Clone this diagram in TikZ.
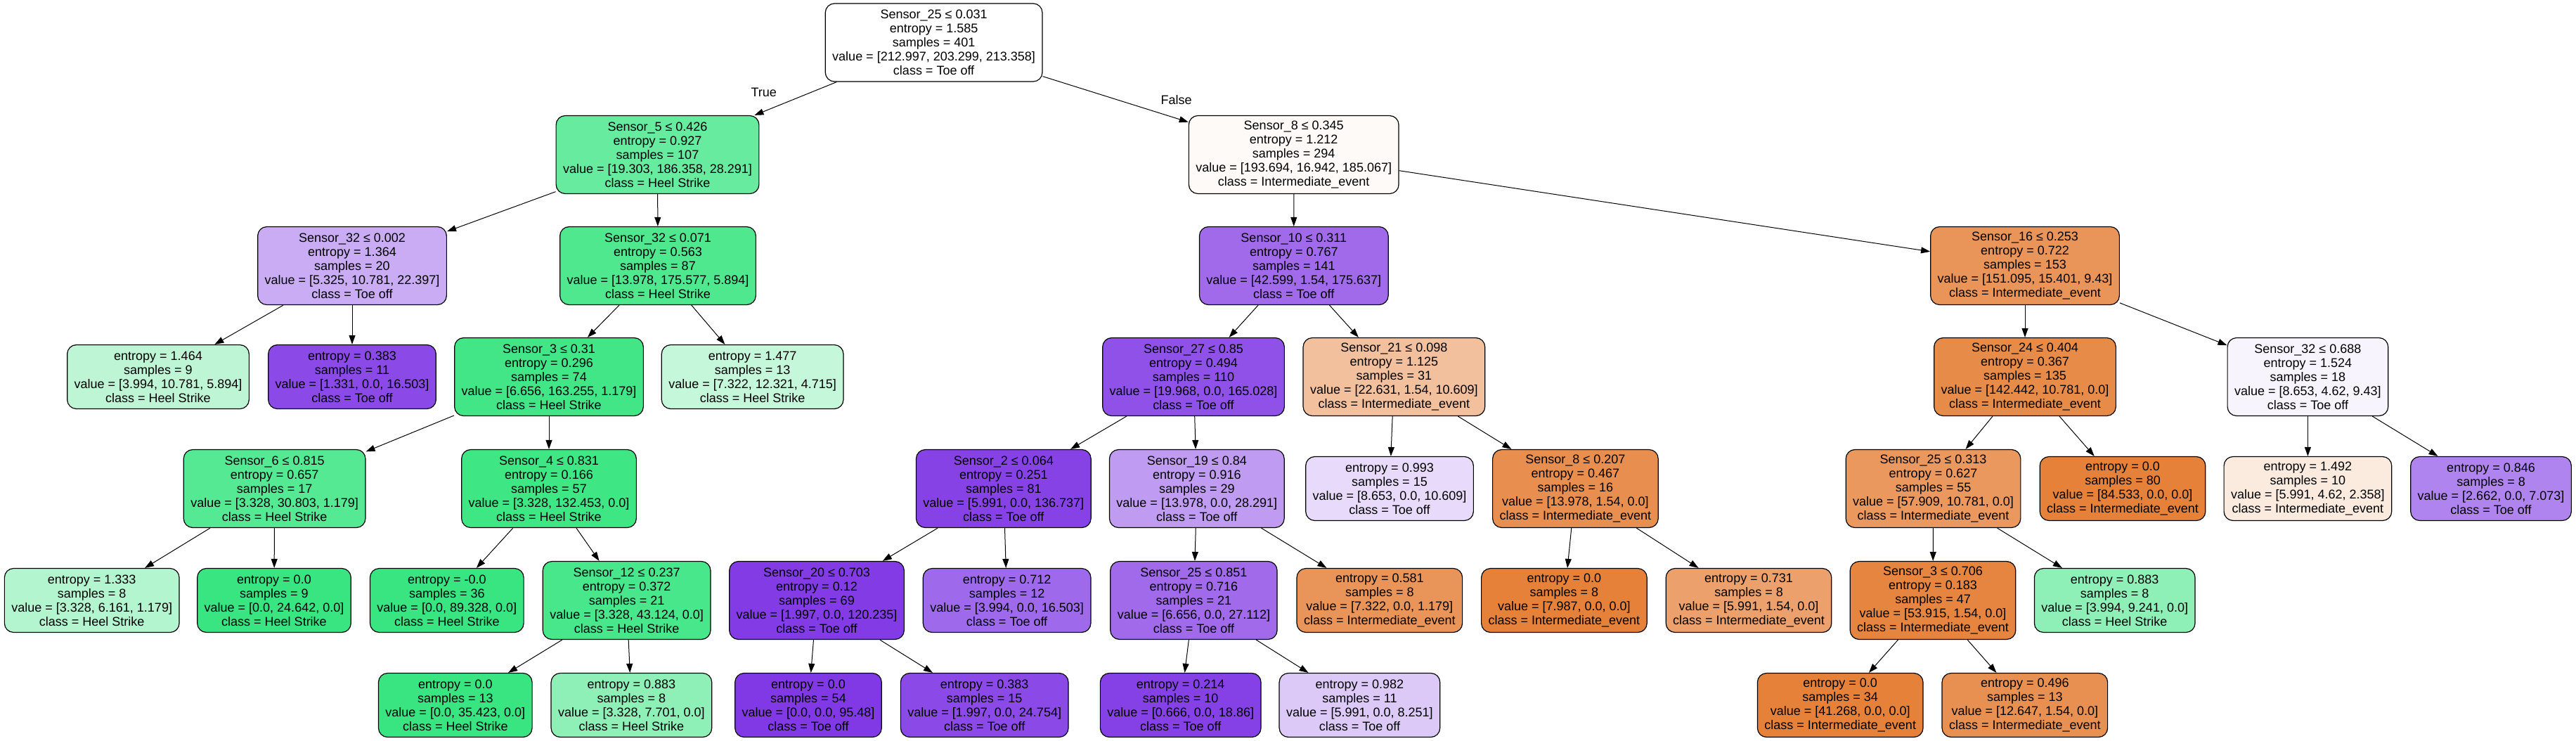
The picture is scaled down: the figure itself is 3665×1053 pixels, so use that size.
\documentclass[tikz,border=0pt]{standalone}
\usepackage{fontspec}
\setmainfont{Liberation Sans}
\usetikzlibrary{arrows.meta}
\definecolor{cO}{RGB}{229,129,57}
\definecolor{cG}{RGB}{57,229,129}
\definecolor{cP}{RGB}{129,57,229}
\newcommand{\fsz}{\fontsize{18}{20}\selectfont}
\tikzset{
  tn/.style={draw=black, line width=1.2pt, rounded corners=13pt, align=center, inner xsep=10pt, inner ysep=0pt, font=\fsz},
  inode/.style={tn, minimum height=111pt},
  leaf/.style={tn, minimum height=91pt},
  edge/.style={-{Triangle[length=13pt,width=9pt]}, line width=1pt},
  elabel/.style={font=\fsz, inner sep=0pt}
}
\begin{document}
\begin{tikzpicture}[x=1pt,y=-1pt]
\useasboundingbox (0,0) rectangle (3665,1053);
% level 0
\node[inode, fill=white] (n0) at (1328.6,60.5) {Sensor\_25 ≤ 0.031\\entropy = 1.585\\samples = 401\\value = [212.997, 203.299, 213.358]\\class = Toe off};
% level 1
\node[inode, fill=cG!76.86!white] (n1) at (935.5,220) {Sensor\_5 ≤ 0.426\\entropy = 0.927\\samples = 107\\value = [19.303, 186.358, 28.291]\\class = Heel Strike};
\node[inode, fill=cO!4.1!white] (n16) at (1840.7,220) {Sensor\_8 ≤ 0.345\\entropy = 1.212\\samples = 294\\value = [193.694, 16.942, 185.067]\\class = Intermediate\_event};
% level 2
\node[inode, fill=cP!41.9!white] (n2) at (501,378) {Sensor\_32 ≤ 0.002\\entropy = 1.364\\samples = 20\\value = [5.325, 10.781, 22.397]\\class = Toe off};
\node[inode, fill=cG!89.05!white] (n5) at (936,378) {Sensor\_32 ≤ 0.071\\entropy = 0.563\\samples = 87\\value = [13.978, 175.577, 5.894]\\class = Heel Strike};
\node[inode, fill=cP!75.09!white] (n17) at (1840.8,378) {Sensor\_10 ≤ 0.311\\entropy = 0.767\\samples = 141\\value = [42.599, 1.54, 175.637]\\class = Toe off};
\node[inode, fill=cO!84.53!white] (n34) at (2881,378) {Sensor\_16 ≤ 0.253\\entropy = 0.722\\samples = 153\\value = [151.095, 15.401, 9.43]\\class = Intermediate\_event};
% level 3
\node[leaf, fill=cG!33.08!white] (n3) at (225,536) {entropy = 1.464\\samples = 9\\value = [3.994, 10.781, 5.894]\\class = Heel Strike};
\node[leaf, fill=cP!91.93!white] (n4) at (501,536) {entropy = 0.383\\samples = 11\\value = [1.331, 0.0, 16.503]\\class = Toe off};
\node[inode, fill=cG!95.24!white] (n6) at (781,536) {Sensor\_3 ≤ 0.31\\entropy = 0.296\\samples = 74\\value = [6.656, 163.255, 1.179]\\class = Heel Strike};
\node[leaf, fill=cG!29.34!white] (n15) at (1070.6,536) {entropy = 1.477\\samples = 13\\value = [7.322, 12.321, 4.715]\\class = Heel Strike};
\node[inode, fill=cP!87.9!white] (n18) at (1698,536) {Sensor\_27 ≤ 0.85\\entropy = 0.494\\samples = 110\\value = [19.968, 0.0, 165.028]\\class = Toe off};
\node[inode, fill=cO!49.74!white] (n29) at (1983.4,536) {Sensor\_21 ≤ 0.098\\entropy = 1.125\\samples = 31\\value = [22.631, 1.54, 10.609]\\class = Intermediate\_event};
\node[inode, fill=cO!92.43!white] (n35) at (2881,536) {Sensor\_24 ≤ 0.404\\entropy = 0.367\\samples = 135\\value = [142.442, 10.781, 0.0]\\class = Intermediate\_event};
\node[inode, fill=cP!5.53!white] (n42) at (3283.4,536) {Sensor\_32 ≤ 0.688\\entropy = 1.524\\samples = 18\\value = [8.653, 4.62, 9.43]\\class = Toe off};
% level 4
\node[inode, fill=cG!85.91!white] (n7) at (390.6,695) {Sensor\_6 ≤ 0.815\\entropy = 0.657\\samples = 17\\value = [3.328, 30.803, 1.179]\\class = Heel Strike};
\node[inode, fill=cG!97.49!white] (n10) at (781,695) {Sensor\_4 ≤ 0.831\\entropy = 0.166\\samples = 57\\value = [3.328, 132.453, 0.0]\\class = Heel Strike};
\node[inode, fill=cP!95.62!white] (n19) at (1427.8,695) {Sensor\_2 ≤ 0.064\\entropy = 0.251\\samples = 81\\value = [5.991, 0.0, 136.737]\\class = Toe off};
\node[inode, fill=cP!50.59!white] (n24) at (1702.8,695) {Sensor\_19 ≤ 0.84\\entropy = 0.916\\samples = 29\\value = [13.978, 0.0, 28.291]\\class = Toe off};
\node[leaf, fill=cP!18.44!white] (n30) at (1977,695) {entropy = 0.993\\samples = 15\\value = [8.653, 0.0, 10.609]\\class = Toe off};
\node[inode, fill=cO!88.98!white] (n31) at (2241.4,695) {Sensor\_8 ≤ 0.207\\entropy = 0.467\\samples = 16\\value = [13.978, 1.54, 0.0]\\class = Intermediate\_event};
\node[inode, fill=cO!81.38!white] (n36) at (2750.5,695) {Sensor\_25 ≤ 0.313\\entropy = 0.627\\samples = 55\\value = [57.909, 10.781, 0.0]\\class = Intermediate\_event};
\node[leaf, fill=cO] (n41) at (3020,695) {entropy = 0.0\\samples = 80\\value = [84.533, 0.0, 0.0]\\class = Intermediate\_event};
\node[leaf, fill=cO!16.42!white] (n43) at (3283.4,695) {entropy = 1.492\\samples = 10\\value = [5.991, 4.62, 2.358]\\class = Intermediate\_event};
\node[leaf, fill=cP!62.36!white] (n44) at (3544,695) {entropy = 0.846\\samples = 8\\value = [2.662, 0.0, 7.073]\\class = Toe off};
% level 5
\node[leaf, fill=cG!38.6!white] (n8) at (130.7,854) {entropy = 1.333\\samples = 8\\value = [3.328, 6.161, 1.179]\\class = Heel Strike};
\node[leaf, fill=cG] (n9) at (390,854) {entropy = 0.0\\samples = 9\\value = [0.0, 24.642, 0.0]\\class = Heel Strike};
\node[leaf, fill=cG] (n11) at (635.8,854) {entropy = -0.0\\samples = 36\\value = [0.0, 89.328, 0.0]\\class = Heel Strike};
\node[inode, fill=cG!92.28!white] (n12) at (891.6,854) {Sensor\_12 ≤ 0.237\\entropy = 0.372\\samples = 21\\value = [3.328, 43.124, 0.0]\\class = Heel Strike};
\node[inode, fill=cP!98.34!white] (n20) at (1162,854) {Sensor\_20 ≤ 0.703\\entropy = 0.12\\samples = 69\\value = [1.997, 0.0, 120.235]\\class = Toe off};
\node[leaf, fill=cP!75.8!white] (n23) at (1432.6,854) {entropy = 0.712\\samples = 12\\value = [3.994, 0.0, 16.503]\\class = Toe off};
\node[inode, fill=cP!75.45!white] (n25) at (1698.4,854) {Sensor\_25 ≤ 0.851\\entropy = 0.716\\samples = 21\\value = [6.656, 0.0, 27.112]\\class = Toe off};
\node[leaf, fill=cO!83.9!white] (n28) at (1962.8,854) {entropy = 0.581\\samples = 8\\value = [7.322, 0.0, 1.179]\\class = Intermediate\_event};
\node[leaf, fill=cO] (n32) at (2225.4,854) {entropy = 0.0\\samples = 8\\value = [7.987, 0.0, 0.0]\\class = Intermediate\_event};
\node[leaf, fill=cO!74.3!white] (n33) at (2488,854) {entropy = 0.731\\samples = 8\\value = [5.991, 1.54, 0.0]\\class = Intermediate\_event};
\node[inode, fill=cO!97.14!white] (n37) at (2750,854) {Sensor\_3 ≤ 0.706\\entropy = 0.183\\samples = 47\\value = [53.915, 1.54, 0.0]\\class = Intermediate\_event};
\node[leaf, fill=cG!56.78!white] (n40) at (3008.7,854) {entropy = 0.883\\samples = 8\\value = [3.994, 9.241, 0.0]\\class = Heel Strike};
% level 6
\node[leaf, fill=cG] (n13) at (647.8,1003) {entropy = 0.0\\samples = 13\\value = [0.0, 35.423, 0.0]\\class = Heel Strike};
\node[leaf, fill=cG!56.79!white] (n14) at (898.4,1003) {entropy = 0.883\\samples = 8\\value = [3.328, 7.701, 0.0]\\class = Heel Strike};
\node[leaf, fill=cP] (n21) at (1150,1003) {entropy = 0.0\\samples = 54\\value = [0.0, 0.0, 95.48]\\class = Toe off};
\node[leaf, fill=cP!91.93!white] (n22) at (1400.7,1003) {entropy = 0.383\\samples = 15\\value = [1.997, 0.0, 24.754]\\class = Toe off};
\node[leaf, fill=cP!96.47!white] (n26) at (1679.7,1003) {entropy = 0.214\\samples = 10\\value = [0.666, 0.0, 18.86]\\class = Toe off};
\node[leaf, fill=cP!27.39!white] (n27) at (1934.4,1003) {entropy = 0.982\\samples = 11\\value = [5.991, 0.0, 8.251]\\class = Toe off};
\node[leaf, fill=cO] (n38) at (2618.2,1003) {entropy = 0.0\\samples = 34\\value = [41.268, 0.0, 0.0]\\class = Intermediate\_event};
\node[leaf, fill=cO!87.82!white] (n39) at (2880.8,1003) {entropy = 0.496\\samples = 13\\value = [12.647, 1.54, 0.0]\\class = Intermediate\_event};
% edges
\draw[edge] (n0) -- (n1);
\draw[edge] (n0) -- (n16);
\draw[edge] (n1) -- (n2);
\draw[edge] (n1) -- (n5);
\draw[edge] (n2) -- (n3);
\draw[edge] (n2) -- (n4);
\draw[edge] (n5) -- (n6);
\draw[edge] (n5) -- (n15);
\draw[edge] (n6) -- (n7);
\draw[edge] (n6) -- (n10);
\draw[edge] (n7) -- (n8);
\draw[edge] (n7) -- (n9);
\draw[edge] (n10) -- (n11);
\draw[edge] (n10) -- (n12);
\draw[edge] (n12) -- (n13);
\draw[edge] (n12) -- (n14);
\draw[edge] (n16) -- (n17);
\draw[edge] (n16) -- (n34);
\draw[edge] (n17) -- (n18);
\draw[edge] (n17) -- (n29);
\draw[edge] (n18) -- (n19);
\draw[edge] (n18) -- (n24);
\draw[edge] (n19) -- (n20);
\draw[edge] (n19) -- (n23);
\draw[edge] (n20) -- (n21);
\draw[edge] (n20) -- (n22);
\draw[edge] (n24) -- (n25);
\draw[edge] (n24) -- (n28);
\draw[edge] (n25) -- (n26);
\draw[edge] (n25) -- (n27);
\draw[edge] (n29) -- (n30);
\draw[edge] (n29) -- (n31);
\draw[edge] (n31) -- (n32);
\draw[edge] (n31) -- (n33);
\draw[edge] (n34) -- (n35);
\draw[edge] (n34) -- (n42);
\draw[edge] (n35) -- (n36);
\draw[edge] (n35) -- (n41);
\draw[edge] (n36) -- (n37);
\draw[edge] (n36) -- (n40);
\draw[edge] (n37) -- (n38);
\draw[edge] (n37) -- (n39);
\draw[edge] (n42) -- (n43);
\draw[edge] (n42) -- (n44);
% edge labels
\node[elabel] (lt) at (1086.7,131.7) {True};
\node[elabel] (lf) at (1673.7,142) {False};
\end{tikzpicture}
\end{document}
